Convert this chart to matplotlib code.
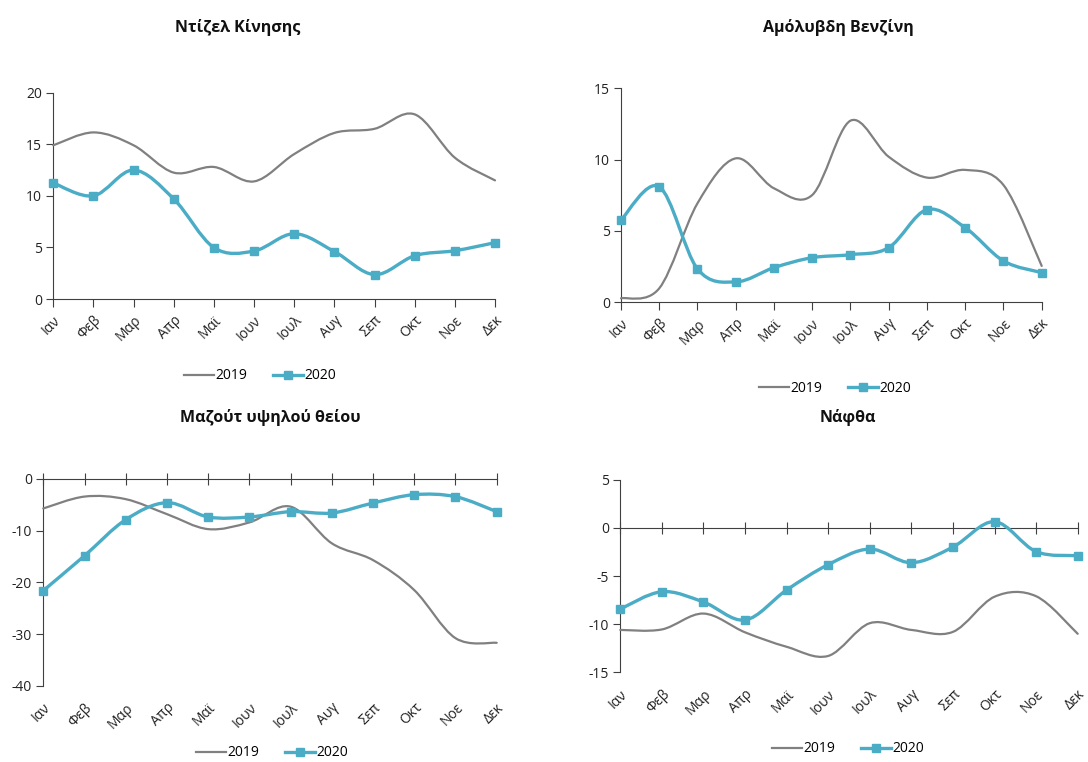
import matplotlib
matplotlib.use("Agg")
import matplotlib.pyplot as plt
from matplotlib.path import Path
from matplotlib.patches import PathPatch
from matplotlib.lines import Line2D
import numpy as np

plt.rcParams['font.family'] = ['Open Sans', 'DejaVu Sans']
plt.rcParams['axes.unicode_minus'] = False

months = ['Ιαν', 'Φεβ', 'Μαρ', 'Απρ', 'Μαϊ', 'Ιουν', 'Ιουλ', 'Αυγ', 'Σεπ', 'Οκτ', 'Νοε', 'Δεκ']

# Ντίζελ Κίνησης
diesel_2019 = [14.9, 16.15, 14.9, 12.25, 12.8, 11.4, 14.05, 16.1, 16.5, 17.9, 13.7, 11.5]
diesel_2020 = [11.25, 10.0, 12.5, 9.7, 4.98, 4.65, 6.33, 4.6, 2.36, 4.2, 4.68, 5.46]
# Αμόλυβδη Βενζίνη
petrol_2019 = [0.28, 0.98, 6.94, 10.09, 7.99, 7.52, 12.73, 10.2, 8.74, 9.28, 8.22, 2.55]
petrol_2020 = [5.77, 8.1, 2.34, 1.43, 2.43, 3.13, 3.34, 3.83, 6.5, 5.23, 2.9, 2.08]
# Μαζούτ υψηλού θείου
fueloil_2019 = [-5.7, -3.4, -3.9, -6.8, -9.7, -8.4, -5.35, -12.45, -15.7, -21.5, -30.8, -31.7]
fueloil_2020 = [-21.6, -14.85, -7.87, -4.58, -7.35, -7.35, -6.32, -6.58, -4.65, -3.03, -3.42, -6.32]
# Νάφθα
naphtha_2019 = [-10.6, -10.55, -8.9, -10.85, -12.35, -13.3, -9.9, -10.6, -10.8, -7.15, -7.1, -11.0]
naphtha_2020 = [-8.43, -6.63, -7.7, -9.57, -6.45, -3.82, -2.2, -3.62, -1.99, 0.64, -2.47, -2.89]

GREY = '#808080'
BLUE = '#4BACC6'
AXC = '#404040'

fig = plt.figure(figsize=(10.88, 7.62), dpi=100)
W, H = 1088.0, 762.0


def add_axes(x0, x1, ytop, ybot):
    return fig.add_axes([x0 / W, 1 - ybot / H, (x1 - x0) / W, (ybot - ytop) / H])


def smooth_path(ax, values, color, lw):
    # excel-like smoothed line drawn as cubic bezier segments
    x = np.arange(len(values), dtype=float)
    y = np.asarray(values, dtype=float)
    pts = np.column_stack([x, y])
    verts = [pts[0]]
    codes = [Path.MOVETO]
    n = len(pts)
    for i in range(n - 1):
        p0 = pts[i - 1] if i > 0 else pts[i]
        p1 = pts[i]
        p2 = pts[i + 1]
        p3 = pts[i + 2] if i + 2 < n else pts[i + 1]
        c1 = p1 + (p2 - p0) / 6.0
        c2 = p2 - (p3 - p1) / 6.0
        verts += [c1, c2, p2]
        codes += [Path.CURVE4] * 3
    patch = PathPatch(Path(verts, codes), facecolor='none', edgecolor=color,
                      linewidth=lw, capstyle='round', joinstyle='round', zorder=3,
                      clip_on=False)
    ax.add_patch(patch)


def draw_panel(ax, title, s2019, s2020, ylim, step, zero_axis, title_xy, legend_xy):
    smooth_path(ax, s2019, GREY, 1.6)
    smooth_path(ax, s2020, BLUE, 2.4)
    ax.plot(range(len(s2020)), s2020, linestyle='none', marker='s', markersize=6,
            color=BLUE, zorder=4, clip_on=False)
    ax.spines['right'].set_visible(False)
    ax.spines['left'].set_color(AXC)
    if zero_axis:
        ax.spines['bottom'].set_visible(False)
        ax.spines['top'].set_position(('data', 0))
        ax.spines['top'].set_color(AXC)
    else:
        ax.spines['top'].set_visible(False)
        ax.spines['bottom'].set_color(AXC)
    ax.set_xlim(0, len(months) - 1)
    ax.set_ylim(*ylim)
    ax.set_yticks(np.arange(ylim[0], ylim[1] + step / 2, step))
    ax.set_xticks(range(len(months)))
    ax.set_xticklabels(months, rotation=45, ha='right', rotation_mode='anchor')
    ax.tick_params(axis='y', direction='out', length=5, color=AXC,
                   labelsize=10, labelcolor='#222222', pad=3)
    if zero_axis:
        ax.tick_params(axis='x', top=True, bottom=False, labeltop=False,
                       labelbottom=True, direction='inout', length=9,
                       color=AXC, labelsize=10, labelcolor='#222222', pad=6)
    else:
        ax.tick_params(axis='x', direction='out', length=6, color=AXC,
                       labelsize=10, labelcolor='#222222', pad=4)
    fig.text(title_xy[0] / W, 1 - title_xy[1] / H, title, ha='center', va='center',
             fontsize=11.5, fontweight='bold', color='#111111')
    handles = [Line2D([], [], color=GREY, lw=1.6),
               Line2D([], [], color=BLUE, lw=2.4, marker='s', markersize=6)]
    ax.legend(handles, ['2019', '2020'], loc='center', ncol=2, frameon=False,
              bbox_to_anchor=(legend_xy[0] / W, 1 - legend_xy[1] / H),
              bbox_transform=fig.transFigure, fontsize=10, handlelength=2.2,
              handletextpad=0.1, columnspacing=1.8, borderpad=0.2)


ax1 = add_axes(53.3, 495, 92.7, 299)
draw_panel(ax1, 'Ντίζελ Κίνησης', diesel_2019, diesel_2020, (0, 20), 5, False,
           (238, 27), (260, 376))

ax2 = add_axes(621, 1041.7, 88.3, 302.3)
draw_panel(ax2, 'Αμόλυβδη Βενζίνη', petrol_2019, petrol_2020, (0, 15), 5, False,
           (838, 27), (835, 388))

ax3 = add_axes(43.3, 496.7, 479, 685.7)
draw_panel(ax3, 'Μαζούτ υψηλού θείου', fueloil_2019, fueloil_2020, (-40, 0), 10, True,
           (270, 418), (272, 753))

ax4 = add_axes(620.3, 1077.7, 479.7, 672.3)
draw_panel(ax4, 'Νάφθα', naphtha_2019, naphtha_2020, (-15, 5), 5, True,
           (848, 418), (848, 749))

fig.savefig('out.png', dpi=100, facecolor='white')
